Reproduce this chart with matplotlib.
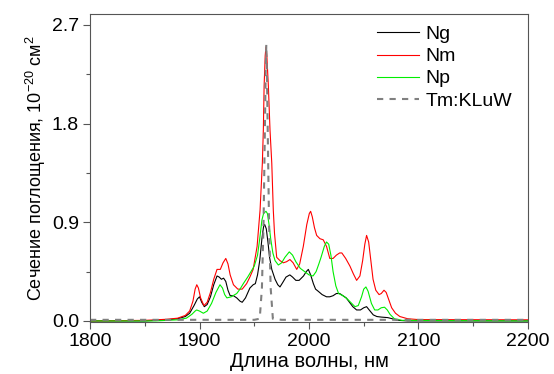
import matplotlib
matplotlib.use("Agg")
import matplotlib.pyplot as plt
from matplotlib.ticker import MultipleLocator

plt.rcParams['font.family'] = ['Liberation Sans', 'DejaVu Sans']
plt.rcParams['mathtext.default'] = 'regular'

# spectra: wavelength (nm), cross-section (1e-20 cm^2)
ng_wl = [1800, 1850, 1870, 1880, 1887, 1891, 1895, 1898, 1900, 1902, 1904.4, 1907, 1910,
         1913, 1916, 1918, 1920, 1922, 1924, 1926, 1928, 1931, 1934, 1937, 1939, 1942, 1946,
         1949, 1951, 1953, 1955, 1957, 1958.5, 1959.5, 1961, 1962.5, 1964, 1966, 1969,
         1971.5, 1973.5, 1976, 1979, 1982.5, 1985, 1988, 1991, 1995, 1997.5, 1999.4, 2001.5,
         2004, 2006, 2008.5, 2012, 2016, 2019, 2022, 2025, 2028, 2031, 2034, 2037, 2040,
         2043.5, 2047, 2050, 2052.6, 2055, 2058.7, 2062, 2066, 2072, 2076, 2080, 2090, 2200]
ng_val = [0.0, 0.0, 0.01, 0.02, 0.04, 0.07, 0.14, 0.20, 0.22, 0.17, 0.13, 0.15, 0.22,
          0.33, 0.41, 0.40, 0.38, 0.39, 0.36, 0.28, 0.23, 0.23, 0.21, 0.18, 0.17, 0.21, 0.30,
          0.33, 0.34, 0.42, 0.55, 0.75, 0.86, 0.88, 0.84, 0.72, 0.58, 0.47, 0.38,
          0.33, 0.31, 0.35, 0.40, 0.42, 0.40, 0.37, 0.37, 0.41, 0.45, 0.47, 0.42,
          0.34, 0.29, 0.27, 0.24, 0.22, 0.22, 0.23, 0.25, 0.25, 0.23, 0.21, 0.17, 0.13,
          0.10, 0.10, 0.12, 0.13, 0.10, 0.055, 0.04, 0.035, 0.03, 0.02, 0.006, 0.0, 0.0]

nm_wl = [1800, 1850, 1870, 1880, 1887, 1891, 1894, 1896, 1897.5, 1899, 1901, 1904, 1907,
         1910, 1913, 1916, 1919, 1921.5, 1924, 1926, 1928, 1931, 1935, 1939, 1943, 1946,
         1949, 1952.6, 1955.3, 1957.4, 1958.3, 1959, 1960, 1960.7, 1961.5, 1962.9, 1964.4,
         1966, 1967.4, 1968.5, 1970.5, 1973.5, 1976.5, 1979.5, 1982.6, 1985.5, 1988.8,
         1991.5, 1994.8, 1998, 2000.3, 2001.5, 2003, 2005, 2007, 2010, 2013, 2016, 2019,
         2022, 2025, 2028, 2030, 2033.5, 2037.4, 2040.5, 2043.5, 2046.5, 2049, 2051,
         2052.6, 2054.5, 2056.5, 2058.5, 2061, 2064, 2066, 2068.5, 2070.5, 2073, 2075.5,
         2079, 2083, 2090, 2100, 2200]
nm_val = [0.0, 0.005, 0.015, 0.025, 0.05, 0.09, 0.18, 0.29, 0.33, 0.30, 0.21, 0.14, 0.17,
          0.26, 0.38, 0.47, 0.47, 0.53, 0.57, 0.52, 0.42, 0.33, 0.29, 0.29, 0.34, 0.40,
          0.47, 0.68, 1.01, 1.44, 1.74, 2.14, 2.42, 2.50, 2.42, 2.14, 1.74,
          1.44, 1.01, 0.80, 0.58, 0.55, 0.53, 0.54, 0.56, 0.53, 0.47,
          0.52, 0.68, 0.88, 0.98, 1.00, 0.95, 0.85, 0.78, 0.75, 0.74, 0.68, 0.57,
          0.57, 0.60, 0.62, 0.62, 0.57, 0.50, 0.43, 0.37, 0.41, 0.55, 0.70,
          0.78, 0.72, 0.55, 0.38, 0.28, 0.24, 0.25, 0.28, 0.26, 0.19, 0.12,
          0.07, 0.04, 0.02, 0.012, 0.01]

np_wl = [1800, 1860, 1880, 1888, 1893, 1896, 1897.4, 1900, 1903.5, 1907, 1911, 1915,
         1918.7, 1921, 1923, 1925, 1929, 1934, 1937, 1940, 1944, 1947, 1950, 1953, 1955,
         1957, 1958.5, 1960.7, 1962, 1963.5, 1965, 1967, 1969, 1972, 1975, 1978, 1982,
         1985, 1988, 1992, 1996, 2000, 2003.7, 2006.5, 2009, 2011, 2014, 2016, 2018, 2020,
         2022, 2024.5, 2027, 2031, 2035, 2038, 2042, 2045, 2048, 2050, 2052, 2054, 2057,
         2060, 2063, 2066, 2069, 2071.5, 2074, 2078, 2085, 2200]
np_val = [0.0, 0.0, 0.01, 0.025, 0.06, 0.09, 0.10, 0.09, 0.07, 0.09, 0.16, 0.26,
          0.33, 0.30, 0.24, 0.21, 0.22, 0.25, 0.29, 0.34, 0.40, 0.45, 0.50, 0.60, 0.75,
          0.92, 0.98, 1.00, 0.98, 0.88, 0.75, 0.62, 0.55, 0.51, 0.53, 0.58, 0.63,
          0.60, 0.54, 0.48, 0.45, 0.42, 0.41, 0.45, 0.52, 0.58, 0.68, 0.72, 0.70, 0.60,
          0.45, 0.32, 0.25, 0.23, 0.20, 0.17, 0.13, 0.14, 0.22, 0.29, 0.31, 0.27, 0.16,
          0.10, 0.10, 0.12, 0.125, 0.10, 0.06, 0.02, 0.005, 0.0]

tm_wl = [1800, 1900, 1950, 1955, 1957, 1958.5, 1959.5, 1960.5, 1961, 1961.5, 1962.5,
         1963.5, 1965, 1967, 1975, 2050, 2200]
tm_val = [0.01, 0.01, 0.01, 0.02, 0.3, 0.9, 1.6, 2.3, 2.52, 2.3, 1.6,
          0.9, 0.3, 0.02, 0.01, 0.01, 0.01]

fig = plt.figure(figsize=(5.54, 3.74), dpi=100)
ax = fig.add_axes([0.1625, 0.139, 0.7905, 0.8236])

ax.plot(ng_wl, ng_val, color='black', lw=0.8, label='Ng')
ax.plot(nm_wl, nm_val, color='#ff0000', lw=0.8, label='Nm')
ax.plot(np_wl, np_val, color='#00ee00', lw=0.8, label='Np')
ax.plot(tm_wl, tm_val, color='#808080', lw=1.5, ls=(0, (3, 3)), label='Tm:KLuW')

ax.set_xlim(1800, 2200)
ax.set_ylim(-0.01, 2.8)
ax.xaxis.set_major_locator(MultipleLocator(100))
ax.xaxis.set_minor_locator(MultipleLocator(50))
ax.yaxis.set_major_locator(MultipleLocator(0.9))
ax.yaxis.set_minor_locator(MultipleLocator(0.45))
ax.yaxis.set_major_formatter(plt.FuncFormatter(lambda v, p: f'{v:.1f}'))

for s in ax.spines.values():
    s.set_color('#555555')
    s.set_linewidth(0.8)
ax.tick_params(which='both', direction='out', color='#555555', labelsize=14)
ax.tick_params(which='major', length=5, width=0.8, pad=3)
ax.tick_params(which='minor', length=3, width=0.8)

ax.set_xlabel('Длина волны, нм', fontsize=14.5, labelpad=1)
ax.set_ylabel('Сечение поглощения, 10$^{-20}$ см$^2$', fontsize=13, labelpad=3)

ax.legend(loc='upper left', frameon=False, fontsize=14, handlelength=2.2,
          handletextpad=0.3, labelspacing=0.23, borderpad=0, borderaxespad=0,
          bbox_to_anchor=(0.6546, 0.962))

fig.savefig('out.png', dpi=100)
